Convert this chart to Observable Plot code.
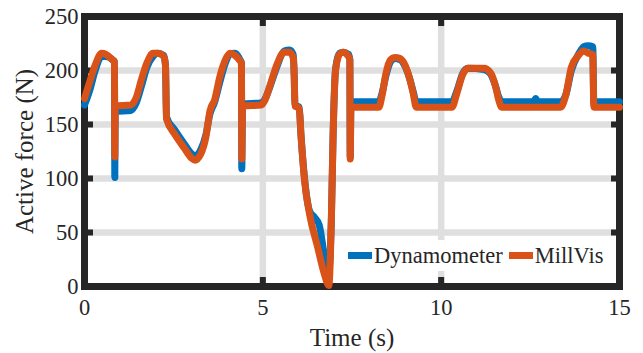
<!DOCTYPE html>
<html><head><meta charset="utf-8">
<script src="https://cdn.jsdelivr.net/npm/d3@7"></script>
<script src="https://cdn.jsdelivr.net/npm/@observablehq/plot@0.6"></script>
<style>
body{margin:0;background:#fff;}
#wrap{position:relative;width:643px;height:353px;overflow:hidden;}
#wrap svg, #wrap svg text{font-family:"Liberation Serif","Times New Roman",Times,serif !important;font-variant:normal !important;font-variant-numeric:normal !important;}
#legend{position:absolute;left:345px;top:240px;width:266px;height:31px;background:#fff;font-family:"Liberation Serif","Times New Roman",Times,serif;font-size:22.5px;color:#262626;display:flex;align-items:center;white-space:nowrap;}
#legend .sw{display:inline-block;width:24px;height:7px;margin:0 2px 0 3px;}
#legend .item{display:flex;align-items:center;margin-right:3px;}
</style>
</head><body>
<div id="wrap"></div>
<script>
const seriesNames = ["Dynamometer", "MillVis"];
const seriesColors = ["#0072BD", "#D95319"];
const xTicks = [0, 5, 10, 15];
const yTicks = [0, 50, 100, 150, 200, 250];

const dynoTime = [0.00,0.15,0.30,0.48,0.60,0.78,0.84,0.85,0.86,1.30,1.45,1.60,1.75,1.92,2.05,2.22,2.27,2.30,2.53,2.80,3.00,3.10,3.25,3.40,3.52,3.65,3.80,3.95,4.08,4.22,4.36,4.40,4.41,4.43,4.95,5.05,5.20,5.40,5.60,5.75,5.85,5.88,5.90,6.02,6.07,6.17,6.31,6.45,6.58,6.77,6.83,6.92,6.97,7.04,7.15,7.25,7.40,7.44,7.45,7.47,8.25,8.35,8.45,8.58,8.70,8.85,9.00,9.12,9.22,9.30,10.30,10.45,10.60,10.75,11.20,11.38,11.52,11.62,11.70,12.60,12.65,12.70,13.35,13.50,13.65,13.85,14.00,14.12,14.25,14.28,15.00];
const dynoForce = [168,182,200,213,213,210,208,101,162,163,170,186,203,213,216,214,205,157,145,132,123,121,126,140,160,171,190,207,215,216,210,207,109,169,170,173,185,204,218,219,215,195,168,166,140,100,70,64,57,18,8,60,140,202,216,217,215,210,120,171,171,180,195,208,211,210,203,192,180,171,171,182,197,202,201,197,186,175,171,171,174,171,171,178,200,215,222,223,222,171,171];

const millTime = [0.00,0.15,0.30,0.48,0.60,0.78,0.84,0.85,0.86,1.30,1.45,1.60,1.75,1.92,2.05,2.22,2.27,2.30,2.53,2.80,3.00,3.10,3.25,3.40,3.52,3.65,3.80,3.95,4.08,4.22,4.36,4.40,4.41,4.43,4.95,5.05,5.20,5.40,5.60,5.75,5.85,5.88,5.90,6.02,6.07,6.17,6.31,6.54,6.72,6.85,6.92,6.97,7.04,7.15,7.25,7.40,7.44,7.45,7.47,8.25,8.35,8.45,8.58,8.70,8.85,9.00,9.12,9.22,9.30,10.30,10.45,10.60,10.75,11.20,11.38,11.52,11.62,11.70,13.35,13.50,13.65,13.85,14.00,14.12,14.25,14.28,15.00];
const millForce = [174,190,205,216,215,210,208,120,167,168,175,192,207,216,216,213,205,155,141,128,119,117,122,138,163,173,195,210,216,214,209,207,118,167,168,172,186,206,217,217,212,195,167,165,140,98,67,36,12,1,60,140,200,215,217,213,210,118,166,166,178,197,210,212,211,204,192,178,166,166,180,196,202,202,198,186,172,166,166,178,203,214,218,216,215,166,166];

const dyno = dynoTime.map((t, i) => ({t, f: dynoForce[i]}));
const mill = millTime.map((t, i) => ({t, f: millForce[i]}));

const ink = "#262626";
const font = '"Liberation Serif", "Times New Roman", Times, serif';

const chart = Plot.plot({
  width: 643,
  height: 353,
  marginLeft: 84,
  marginRight: 24,
  marginTop: 16,
  marginBottom: 67,
  style: {fontFamily: font, fontSize: "22.5px", color: ink, background: "#fff"},
  x: {domain: [0, 15]},
  y: {domain: [0, 250]},
  marks: [
    Plot.gridX(xTicks.slice(1, -1), {stroke: "#dfdfdf", strokeOpacity: 1, strokeWidth: 6.5}),
    Plot.gridY(yTicks.slice(1, -1), {stroke: "#dfdfdf", strokeOpacity: 1, strokeWidth: 6.5}),
    Plot.frame({stroke: ink, strokeWidth: 7}),
    Plot.axisX(xTicks, {anchor: "bottom", tickSize: -9, strokeWidth: 6, stroke: ink, fill: null, label: null}),
    Plot.axisX(xTicks, {anchor: "top", tickSize: -9, strokeWidth: 6, stroke: ink, fill: null, label: null}),
    Plot.axisY(yTicks, {anchor: "left", tickSize: -9, strokeWidth: 6, stroke: ink, fill: null, label: null}),
    Plot.axisY(yTicks, {anchor: "right", tickSize: -9, strokeWidth: 6, stroke: ink, fill: null, label: null}),
    Plot.axisX(xTicks, {anchor: "bottom", tickSize: 0, tickPadding: 13, fill: ink, fontSize: 22.5, fontFamily: font, label: "Time (s)", labelAnchor: "center", labelOffset: 59, labelArrow: "none"}),
    Plot.axisY(yTicks, {anchor: "left", tickSize: 0, tickPadding: 6, fill: ink, fontSize: 22.5, fontFamily: font, label: "Active force (N)", labelAnchor: "center", labelOffset: 69, labelArrow: "none"}),
    Plot.line(dyno, {x: "t", y: "f", curve: "monotone-x", stroke: seriesColors[0], strokeWidth: 7, strokeLinejoin: "round", strokeLinecap: "round"}),
    Plot.line(mill, {x: "t", y: "f", curve: "monotone-x", stroke: seriesColors[1], strokeWidth: 7, strokeLinejoin: "round", strokeLinecap: "round"})
  ]
});

const wrap = document.getElementById("wrap");
wrap.appendChild(chart);
chart.querySelectorAll("g[aria-label$='axis label'] text").forEach(t => t.setAttribute("font-size", 25));
const legend = document.createElement("div");
legend.id = "legend";
seriesNames.forEach((name, i) => {
  const item = document.createElement("span");
  item.className = "item";
  const sw = document.createElement("span");
  sw.className = "sw";
  sw.style.background = seriesColors[i];
  item.appendChild(sw);
  item.appendChild(document.createTextNode(name));
  legend.appendChild(item);
});
wrap.appendChild(legend);
</script>
</body></html>
